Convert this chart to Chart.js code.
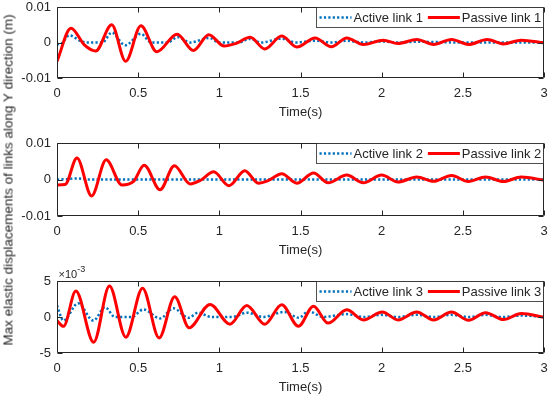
<!DOCTYPE html>
<html lang="en">
<head>
<meta charset="UTF-8">
<title>Max elastic displacements of links</title>
<script src="https://cdn.jsdelivr.net/npm/chart.js"></script>
<style>
  body { margin: 0; background: #fff; }
  #wrap { position: relative; width: 550px; height: 399px; overflow: hidden; font-family: "Liberation Sans", Arial, sans-serif; }
  canvas { position: absolute; left: 0; }
  #ylab { position: absolute; left: 8px; top: 180px; transform: translate(-50%, -50%) rotate(-90deg);
          font-size: 13.5px; color: #262626; white-space: nowrap; }
</style>
</head>
<body>
<div id="wrap">
  <canvas id="c1" width="550" height="130" style="top:-10px"></canvas>
  <canvas id="c2" width="550" height="133" style="top:125px"></canvas>
  <canvas id="c3" width="550" height="133" style="top:262px"></canvas>
  <div id="ylab">Max elastic displacements of links along Y direction (m)</div>
</div>

<script>
// all values in units of 1e-3 m, time in s

// link 1
var timeA1 = [0, 0.02, 0.075, 0.15, 0.18, 0.28, 0.337, 0.42, 0.517, 0.58, 0.68, 0.745, 0.82, 0.937, 1.0, 1.12, 1.185, 1.26, 1.384, 1.47, 1.59, 1.69, 1.785, 1.89, 2.0, 2.1, 2.22, 2.5, 3.0];
var active1 = [-0.4, -0.5, 2.0, 0.3, 0, 0, 2.8, -0.8, 2.45, 0, 0, 1.5, 0, 1.3, 0, 0, 1.0, 0, 1.1, 0, 0.5, 0, 0.5, 0, 0.3, 0, 0.2, 0, 0];
var timeP1 = [0, 0.086, 0.17, 0.238, 0.337, 0.423, 0.517, 0.615, 0.74, 0.84, 0.935, 1.03, 1.1, 1.19, 1.28, 1.384, 1.477, 1.59, 1.69, 1.785, 1.887, 2.01, 2.10, 2.216, 2.32, 2.43, 2.535, 2.65, 2.75, 2.86, 3.0];
var passive1 = [-5.3, 4.0, -0.75, -2.4, 5.0, -5.3, 4.7, -2.6, 2.35, -2.25, 2.2, -1.0, -0.3, 1.45, -1.8, 1.8, -1.3, 1.3, -1.2, 1.3, -0.56, 0.65, -0.3, 0.85, -0.56, 0.85, -0.56, 0.85, -0.4, 0.65, -0.1];

// link 2
var timeA2 = [0, 0.06, 0.12, 0.2, 0.5, 1, 1.5, 2, 2.5, 3];
var active2 = [0, 0.1, 0.3, 0, 0, 0, 0, 0, 0, 0];
var timeP2 = [0, 0.05, 0.123, 0.213, 0.303, 0.40, 0.47, 0.537, 0.635, 0.723, 0.82, 0.885, 0.965, 1.06, 1.157, 1.24, 1.30, 1.385, 1.477, 1.58, 1.67, 1.785, 1.887, 2.0, 2.10, 2.216, 2.32, 2.43, 2.535, 2.64, 2.75, 2.86, 3.0];
var passive2 = [-1.5, -1.4, 5.9, -4.5, 5.4, -1.5, -0.6, 3.9, -2.8, 3.8, -1.2, -0.2, 2.1, -1.7, 2.4, -1.0, -0.3, 1.6, -1.0, 1.8, -0.9, 1.2, -0.9, 1.2, -0.7, 0.7, -0.5, 1.1, -0.55, 0.7, -0.55, 0.7, -0.2];

// link 3
var timeA3 = [0, 0.04, 0.13, 0.224, 0.296, 0.357, 0.46, 0.532, 0.635, 0.717, 0.81, 0.87, 0.95, 1.08, 1.17, 1.27, 1.40, 1.49, 1.55, 1.64, 1.785, 1.887, 2.0, 2.1, 2.216, 2.32, 2.43, 2.535, 2.64, 2.75, 2.86, 3.0];
var active3 = [1.6, -0.5, 1.9, -0.5, 1.35, 0, 0, 1.05, -0.2, 1.2, -0.1, 0.6, 0, 0, 0.6, 0, 0.7, -0.1, 0.8, 0, 0.4, 0, 0.3, 0, 0.3, 0, 0.3, 0, 0.3, 0, 0.2, 0];
var timeP3 = [0, 0.04, 0.116, 0.226, 0.323, 0.424, 0.527, 0.629, 0.725, 0.814, 0.943, 1.066, 1.169, 1.28, 1.384, 1.487, 1.58, 1.67, 1.785, 1.887, 2.004, 2.10, 2.216, 2.32, 2.43, 2.535, 2.64, 2.75, 2.86, 3.0];
var passive3 = [-0.5, -1.3, 3.6, -3.5, 4.3, -2.8, 4.0, -2.9, 2.8, -1.5, 1.75, -1.0, 1.6, -1.0, 1.7, -1.3, 1.5, -0.85, 1.0, -0.4, 0.7, -0.4, 0.7, -0.4, 0.7, -0.45, 0.6, -0.35, 0.5, -0.05];

var xTicks = { min: 0, max: 3, step: 0.5 };

var FONT = '"Liberation Sans", Arial, sans-serif';
var INK = '#262626';
var FS = 13;

function pts(t, v) {
  return t.map(function (x, i) { return { x: x, y: v[i] }; });
}

// box, inner tick marks, legend and exponent, matlab style
var boxPlugin = {
  id: 'boxPlugin',
  afterDraw: function (chart, args, opts) {
    var ctx = chart.ctx, a = chart.chartArea;
    var xs = chart.scales.x, ys = chart.scales.y;
    var L = Math.round(a.left) + 0.5, R = Math.round(a.right) - 0.5;
    var T = Math.round(a.top) + 0.5, B = Math.round(a.bottom) - 0.5;
    ctx.save();
    ctx.strokeStyle = INK;
    ctx.lineWidth = 1;
    ctx.beginPath();
    ctx.rect(L, T, R - L, B - T);
    xs.ticks.forEach(function (t) {
      var px = Math.round(xs.getPixelForValue(t.value)) + 0.5;
      ctx.moveTo(px, B); ctx.lineTo(px, B - 5);
      ctx.moveTo(px, T); ctx.lineTo(px, T + 5);
    });
    ys.ticks.forEach(function (t) {
      var py = Math.round(ys.getPixelForValue(t.value)) + 0.5;
      ctx.moveTo(L, py); ctx.lineTo(L + 5, py);
      ctx.moveTo(R, py); ctx.lineTo(R - 5, py);
    });
    ctx.stroke();

    // legend
    var ds = chart.data.datasets;
    ctx.font = FS + 'px ' + FONT;
    var bw = 227, bh = 20;
    var bx = R - bw, by = T;
    ctx.fillStyle = '#fff';
    ctx.fillRect(bx, by, bw, bh);
    ctx.lineWidth = 0.8;
    ctx.strokeRect(bx, by, bw, bh);
    var cy = by + bh / 2;
    var x = bx + 3;
    ds.forEach(function (d) {
      ctx.beginPath();
      ctx.strokeStyle = d.borderColor;
      ctx.lineWidth = d.borderWidth;
      ctx.setLineDash(d.borderDash || []);
      ctx.moveTo(x, cy); ctx.lineTo(x + 32, cy);
      ctx.stroke();
      ctx.setLineDash([]);
      x += 34;
      ctx.fillStyle = INK;
      ctx.textBaseline = 'middle';
      ctx.fillText(d.label, x, cy + 0.5);
      x += ctx.measureText(d.label).width + 5;
    });

    if (opts.exponent) {
      ctx.fillStyle = INK;
      ctx.textBaseline = 'alphabetic';
      ctx.font = '11px ' + FONT;
      ctx.fillText('\u00d710', L + 1, T - 4);
      var w = ctx.measureText('\u00d710').width;
      ctx.font = '9px ' + FONT;
      ctx.fillText(opts.exponent, L + 1 + w, T - 10);
    }
    ctx.restore();
  }
};

function makeChart(id, padTop, n, tA, vA, tP, vP, yLim, yFmt, exponent) {
  var ctx = document.getElementById(id).getContext('2d');
  return new Chart(ctx, {
    type: 'line',
    data: {
      datasets: [{
        label: 'Active link ' + n,
        data: pts(tA, vA),
        borderColor: '#0072BD',
        borderWidth: 2.5,
        borderDash: [2.2, 2.2],
        pointRadius: 0,
        cubicInterpolationMode: 'monotone',
        fill: false,
        order: 1
      }, {
        label: 'Passive link ' + n,
        data: pts(tP, vP),
        borderColor: '#FF0000',
        borderWidth: 3,
        pointRadius: 0,
        cubicInterpolationMode: 'monotone',
        fill: false,
        order: 0
      }]
    },
    options: {
      responsive: false,
      animation: false,
      devicePixelRatio: 1,
      layout: { padding: { top: padTop, right: 6, left: 0, bottom: 0 } },
      plugins: {
        legend: { display: false },
        tooltip: { enabled: false },
        boxPlugin: { exponent: exponent }
      },
      scales: {
        x: {
          type: 'linear',
          min: xTicks.min,
          max: xTicks.max,
          grid: { display: false, drawTicks: false },
          border: { display: false },
          ticks: { stepSize: xTicks.step, padding: 8, maxRotation: 0, autoSkip: false,
                   color: INK, font: { family: FONT, size: FS },
                   callback: function (v) { return String(v); } },
          title: { display: true, text: 'Time(s)', padding: 0, color: INK, font: { family: FONT, size: FS } },
          afterFit: function (s) { s.height = 42; s.paddingLeft = 0; s.paddingRight = 0; }
        },
        y: {
          min: -yLim,
          max: yLim,
          grid: { display: false, drawTicks: false },
          border: { display: false },
          ticks: { stepSize: yLim, padding: 6, color: INK, font: { family: FONT, size: FS },
                   callback: yFmt },
          afterFit: function (s) { s.width = 57; s.paddingTop = 0; s.paddingBottom = 0; }
        }
      }
    },
    plugins: [boxPlugin]
  });
}

function metres(v) { return String(v / 1000); }
function plain(v) { return String(v); }

makeChart('c1', 17, 1, timeA1, active1, timeP1, passive1, 10, metres, null);
makeChart('c2', 18, 2, timeA2, active2, timeP2, passive2, 10, metres, null);
makeChart('c3', 19, 3, timeA3, active3, timeP3, passive3, 5, plain, '-3');
</script>
</body>
</html>
